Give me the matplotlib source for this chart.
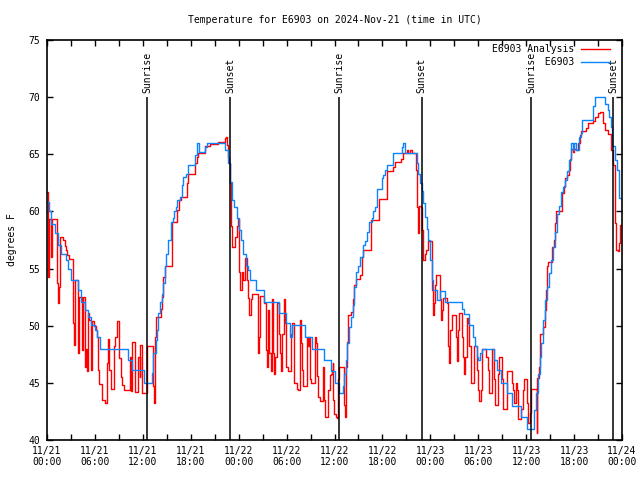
import numpy as np
import pandas as pd
import matplotlib
matplotlib.use('Agg')
import matplotlib.pyplot as plt
import matplotlib.dates as mdates

# hours after 2024-11-21 00:00 UTC, temperature in degrees F
blue_hours = [0.0, 0.25, 0.55, 1.0, 1.4, 1.8, 2.4, 2.65, 3.05, 3.9, 4.3, 4.75, 5.15, 5.55, 5.95, 6.2,
              6.6, 10.2, 10.6, 12.15, 13.1, 13.32, 13.65, 13.82, 13.95, 14.15, 14.36, 14.57, 14.78,
              14.9, 15.2, 15.49, 15.82, 15.95, 16.16, 16.32, 16.66, 16.87, 17.08, 17.41, 17.7, 18.54,
              18.83, 19.04, 19.79, 20.0, 22.29, 22.71, 22.92, 23.13, 23.46, 23.75, 24.04, 24.29, 24.58,
              24.88, 25.13, 25.42, 26.13, 27.21, 29.05, 29.88, 30.43, 30.64, 32.3, 33.22, 34.73, 35.56,
              36.07, 36.61, 37.03, 37.19, 37.44, 37.61, 37.86, 38.03, 38.28, 38.45, 38.7, 38.99, 39.2,
              39.53, 39.82, 40.11, 40.37, 40.66, 40.87, 41.07, 41.28, 41.91, 42.12, 42.33, 42.62, 43.37,
              44.41, 44.62, 44.79, 46.29, 46.5, 46.71, 46.92, 47.13, 47.34, 47.54, 47.75, 47.96, 48.16,
              48.37, 48.79, 49.21, 49.83, 52.0, 52.25, 52.88, 53.38, 53.59, 53.8, 54.01, 54.22, 54.43,
              56.01, 56.3, 56.85, 57.56, 58.18, 59.35, 60.08, 61.02, 61.27, 61.44, 61.7, 61.87, 62.13,
              62.3, 62.55, 62.85, 63.15, 63.36, 63.57, 63.83, 64.13, 64.34, 64.64, 64.85, 65.11, 65.32,
              65.62, 65.83, 66.04, 66.26, 66.56, 66.81, 67.02, 68.39, 68.68, 69.88, 70.22, 70.39, 70.64,
              70.81, 71.07, 71.37, 71.58, 72.0]
blue_temp = [60.8, 60.0, 58.9, 58.1, 57.1, 56.3, 55.75, 55.0, 54.0, 53.1, 52.1, 51.4, 50.8, 50.1, 49.6, 49.0,
             48.0, 47.0, 46.1, 45.0, 45.9, 47.6, 48.75, 49.6, 51.1, 52.1, 52.8, 53.7, 55.2,
             56.3, 57.5, 59.1, 59.4, 60.0, 60.4, 61.0, 61.3, 62.3, 63.0, 63.3, 64.06, 64.9,
             65.96, 65.2, 65.67, 66.0, 65.4, 64.2, 62.6, 61.0, 60.4, 59.4, 58.4, 57.5, 56.3,
             55.2, 54.9, 54.0, 53.1, 52.1, 51.1, 50.2, 49.05, 50.1, 49.05, 48.0, 47.0, 46.0,
             44.96, 44.1, 44.7, 45.8, 47.0, 48.5, 49.9, 50.8, 51.8, 53.4, 54.7, 55.2, 56.0,
             57.1, 57.4, 58.2, 59.1, 59.4, 60.0, 60.4, 62.0, 62.9, 63.2, 63.6, 64.06, 65.1,
             65.6, 66.0, 65.1, 64.2, 63.3, 62.5, 61.8, 60.7, 59.5, 58.5, 57.5, 55.75, 54.0,
             53.1, 52.25, 53.0, 52.1, 51.5, 51.0, 50.1, 49.05, 48.2, 47.3, 47.0, 47.6, 48.0,
             47.0, 46.1, 45.0, 44.1, 43.0, 42.05, 41.0, 42.6, 44.1, 45.8, 47.3, 48.5, 50.5,
             52.25, 53.4, 54.6, 55.75, 56.9, 58.2, 59.8, 60.5, 61.7, 62.1, 62.75, 63.5, 64.5,
             66.0, 65.4, 66.0, 65.4, 66.5, 66.9, 68.0, 69.2, 70.0, 69.4, 68.9, 68.3, 67.4,
             65.7, 64.5, 63.6, 61.15, 61.15]

red_hours = [0.0, 0.17, 0.25, 0.45, 0.58, 1.21, 1.42, 1.5, 1.63, 2.05, 2.2, 2.38, 2.55, 2.75, 3.3, 3.4,
             3.5, 3.84, 3.92, 4.05, 4.4, 4.5, 4.75, 4.85, 4.95, 5.18, 5.3, 5.47, 5.59, 5.9, 6.1, 6.22,
             6.35, 6.55, 6.93, 7.2, 7.47, 7.68, 7.76, 8.01, 8.4, 8.5, 8.72, 9.0, 9.27, 9.43, 9.68,
             10.4, 10.5, 10.68, 11.02, 11.44, 11.6, 11.7, 11.86, 12.57, 13.24, 13.4, 13.53, 13.65,
             14.24, 14.36, 14.57, 14.78, 15.62, 15.7, 16.33, 16.57, 16.74, 17.49, 17.7, 18.54, 18.75,
             18.95, 19.79, 20.4, 21.46, 22.29, 22.42, 22.5, 22.63, 22.8, 22.92, 23.0, 23.08, 23.17,
             23.54, 23.75, 23.9, 24.04, 24.1, 24.17, 24.46, 24.6, 24.79, 25.08, 25.21, 25.33, 25.54,
             25.71, 26.38, 26.46, 26.55, 26.67, 27.2, 27.38, 27.5, 27.63, 27.72, 27.84, 28.0, 28.13,
             28.34, 28.46, 28.6, 28.76, 29.05, 29.2, 29.26, 29.45, 29.67, 29.8, 29.92, 30.13, 30.55,
             30.7, 30.97, 31.26, 31.47, 31.68, 31.8, 31.89, 32.1, 32.51, 32.65, 32.8, 32.93, 33.1,
             33.56, 33.7, 33.85, 33.97, 34.18, 34.52, 34.6, 34.7, 34.81, 35.14, 35.43, 35.5, 35.65,
             35.77, 35.86, 35.98, 36.19, 36.36, 36.48, 36.61, 37.19, 37.32, 37.4, 37.53, 37.65, 38.1,
             38.28, 38.49, 38.7, 39.25, 39.4, 39.61, 40.53, 41.62, 42.53, 43.37, 43.58, 44.29, 44.54,
             45.04, 45.25, 45.46, 45.65, 46.21, 46.29, 46.4, 46.5, 46.6, 46.8, 46.92, 47.04, 47.33,
             47.5, 47.66, 48.25, 48.37, 48.46, 48.58, 48.67, 49.21, 49.33, 49.5, 49.63, 50.04, 50.17,
             50.25, 50.38, 50.5, 50.67, 51.21, 51.34, 51.46, 51.63, 51.96, 52.13, 52.25, 52.38, 52.55,
             52.76, 52.88, 53.05, 53.46, 53.8, 54.01, 54.13, 54.3, 54.51, 54.93, 55.17, 55.34, 55.68,
             55.97, 56.09, 56.43, 56.6, 56.93, 57.14, 57.56, 58.26, 58.39, 58.5, 58.68, 58.8, 58.93,
             59.4, 59.55, 59.7, 60.05, 60.25, 60.5, 60.63, 61.3, 61.4, 61.57, 61.7, 62.13, 62.3,
             62.51, 62.64, 62.72, 63.28, 63.49, 63.62, 63.74, 64.47, 64.68, 64.9, 65.11, 65.32, 65.53,
             65.62, 65.83, 66.04, 66.26, 66.47, 66.68, 66.9, 67.53, 67.75, 68.39, 68.68, 68.94, 69.24,
             69.66, 69.88, 70.3, 70.64, 70.86, 71.07, 71.15, 71.24, 71.45, 71.6, 71.75, 72.0]
red_temp = [61.7, 54.3, 59.3, 56.0, 59.3, 53.7, 52.0, 53.4, 57.8, 57.5, 57.0, 56.6, 56.2, 55.8, 50.2, 48.3,
            54.0, 49.6, 47.6, 52.5, 47.9, 52.5, 46.4, 48.0, 46.0, 51.1, 50.5, 46.1, 50.4, 50.0, 49.6, 49.0,
            46.1, 44.9, 43.5, 43.2, 46.7, 48.8, 46.1, 44.5, 48.2, 49.0, 50.4, 47.2, 45.5, 44.8, 44.4,
            47.3, 44.3, 48.6, 44.2, 47.3, 45.5, 48.3, 44.1, 48.2, 44.7, 43.2, 49.0, 50.8,
            51.5, 52.5, 54.3, 55.2, 56.9, 59.1, 60.1, 61.0, 61.3, 62.5, 63.3, 64.2, 64.8,
            65.1, 65.7, 65.9, 66.1, 66.4, 66.5, 65.8, 64.8, 64.2, 62.5, 61.0, 58.7, 56.9,
            57.8, 58.7, 59.3, 56.9, 54.7, 53.1, 54.7, 54.0, 55.9, 54.0, 52.4, 50.9, 52.3,
            52.8, 51.4, 47.6, 49.0, 52.6, 52.0, 47.9, 46.4, 50.2, 51.4, 47.6, 46.0, 52.3,
            47.6, 45.8, 47.3, 52.0, 49.3, 47.6, 46.0, 49.3, 52.3, 50.2, 46.4, 46.0, 49.3,
            50.2, 45.0, 44.5, 44.4, 50.5, 48.5, 46.1, 44.7, 49.0, 48.2, 49.0, 45.3, 45.0,
            49.0, 48.5, 45.6, 43.8, 43.4, 44.5, 46.4, 43.5, 42.05, 44.4, 45.7, 45.8, 46.1,
            46.7, 43.5, 42.3, 42.0, 41.9, 45.3, 46.4, 43.1, 42.0, 46.4, 48.6, 50.9, 51.2,
            52.3, 53.6, 54.1, 54.4, 56.0, 56.6, 59.25, 61.1, 63.5, 63.9, 64.3, 64.6, 65.1,
            65.4, 65.1, 65.4, 65.1, 63.6, 60.4, 59.25, 58.1, 60.5, 60.4, 58.4, 55.75, 56.3,
            56.6, 57.4, 53.1, 50.9, 52.0, 53.6, 54.4, 52.3, 50.5, 51.4, 52.4, 52.0, 50.8,
            48.2, 46.7, 49.6, 50.9, 49.0, 46.9, 49.6, 51.1, 49.0, 47.3, 45.8, 47.3, 50.65,
            50.2, 48.2, 45.0, 48.2, 46.1, 44.4, 43.4, 44.4, 48.0, 47.3, 46.1, 44.1, 48.0,
            45.3, 43.1, 45.8, 47.3, 45.3, 42.7, 46.0, 45.0, 44.4, 43.2, 45.0, 44.4, 41.8,
            42.7, 44.4, 45.3, 43.2, 41.5, 42.4, 44.5, 40.6, 45.4, 46.4, 49.3, 49.9, 51.4,
            53.1, 55.2, 55.6, 56.9, 57.5, 58.96, 60.0, 61.6, 62.2, 62.9, 63.2, 63.6, 64.6,
            65.5, 65.2, 65.5, 65.4, 66.0, 66.7, 67.0, 67.3, 67.7, 67.9, 68.3, 68.6, 68.7,
            67.7, 67.1, 66.8, 65.4, 64.1, 62.2, 58.96, 56.6, 56.5, 57.2, 58.8, 58.96]

sun_hours = [12.58, 22.93, 36.58, 46.9, 60.6, 70.88]
sun_labels = ['Sunrise', 'Sunset', 'Sunrise', 'Sunset', 'Sunrise', 'Sunset']

start = pd.Timestamp('2024-11-21 00:00')
blue_t = start + pd.to_timedelta(blue_hours, unit='h')
red_t = start + pd.to_timedelta(red_hours, unit='h')
sun_t = start + pd.to_timedelta(sun_hours, unit='h')

mono = 'DejaVu Sans Mono'
fs = 7
plt.rcParams['font.family'] = mono

fig = plt.figure(figsize=(6.4, 4.8), dpi=100)
ax = fig.add_axes([47 / 640, 40 / 480, 575 / 640, 400 / 480])

ax.plot(red_t, red_temp, drawstyle='steps-post', color='#ff0000', lw=1.0, label='E6903 Analysis')
ax.plot(blue_t, blue_temp, drawstyle='steps-post', color='#0a84ff', lw=1.0, label='         E6903')

for t, lab in zip(sun_t, sun_labels):
    ax.vlines(t, 40, 70, color='black', lw=1.1)
    ax.text(t, 70.35, lab, rotation=90, ha='center', va='bottom', fontsize=fs, family=mono)

ax.set_xlim(start, start + pd.Timedelta(hours=72))
ax.set_ylim(40, 75)
ax.set_yticks(np.arange(40, 76, 5))

ax.xaxis.set_major_locator(mdates.HourLocator(byhour=[0, 6, 12, 18]))
ax.xaxis.set_minor_locator(mdates.HourLocator(byhour=[3, 9, 15, 21]))
ax.xaxis.set_major_formatter(mdates.DateFormatter('%m/%d\n%H:%M'))

ax.tick_params(axis='both', which='both', direction='in', top=True, right=True,
               length=4, width=1, labelsize=fs)
ax.tick_params(axis='x', pad=4)
ax.tick_params(axis='y', pad=5)
for s in ax.spines.values():
    s.set_linewidth(1.2)

ax.set_title('Temperature for E6903 on 2024-Nov-21 (time in UTC)', fontsize=fs, pad=12)
ax.set_ylabel('degrees F', fontsize=fs, labelpad=8)

ax.legend(loc='upper right', bbox_to_anchor=(0.979, 0.99), frameon=False, fontsize=fs,
          borderpad=0, borderaxespad=0, handlelength=3.0, handletextpad=0.7,
          labelspacing=0.3, markerfirst=False)

fig.savefig('out.png', dpi=100)
